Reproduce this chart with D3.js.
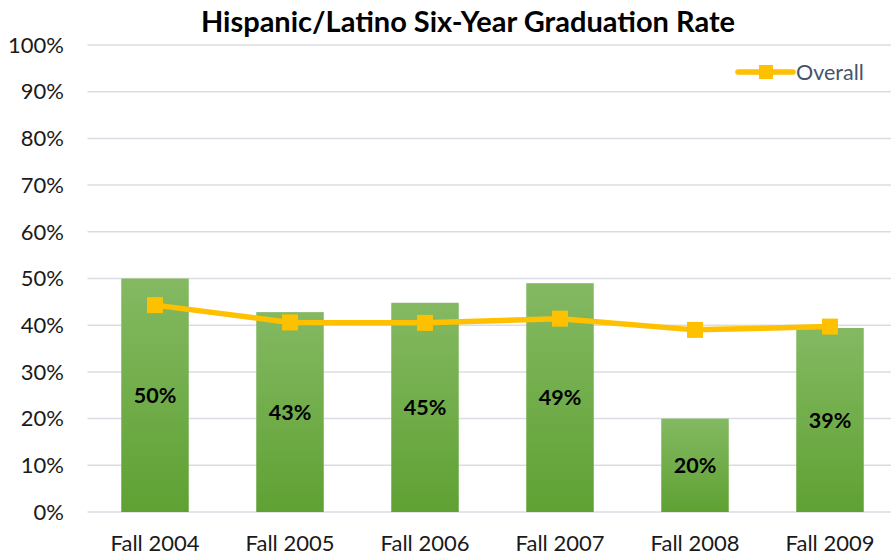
<!DOCTYPE html>
<html>
<head>
<meta charset="utf-8">
<script src="https://cdn.jsdelivr.net/npm/d3@7"></script>
<style>
  body { margin: 0; background: #fff; }
  svg { font-family: Lato, "Open Sans", sans-serif; }
</style>
</head>
<body>
<div id="chart"></div>
<script>
// data
const cohorts = ["Fall 2004", "Fall 2005", "Fall 2006", "Fall 2007", "Fall 2008", "Fall 2009"];
const hispanicRate = [0.50, 0.428, 0.448, 0.49, 0.20, 0.394];
const overallRate = [0.443, 0.406, 0.405, 0.414, 0.390, 0.397];
const yTicks = [0, 0.1, 0.2, 0.3, 0.4, 0.5, 0.6, 0.7, 0.8, 0.9, 1.0];

const width = 891, height = 558;
const margin = { left: 87.5, top: 45, bottom: 46 };
const plotW = 810; // runs past the right edge, as in the original crop

const svg = d3.select("#chart").append("svg")
  .attr("width", width)
  .attr("height", height);

const x = d3.scaleBand()
  .domain(cohorts)
  .range([margin.left, margin.left + plotW])
  .paddingInner(0.5)
  .paddingOuter(0.25);

const y = d3.scaleLinear()
  .domain([0, 1])
  .range([height - margin.bottom, margin.top]);

// gradient for bars
const grad = svg.append("defs").append("linearGradient")
  .attr("id", "barGrad")
  .attr("x1", 0).attr("y1", 0).attr("x2", 0).attr("y2", 1);
grad.append("stop").attr("offset", "0%").attr("stop-color", "#84b962");
grad.append("stop").attr("offset", "100%").attr("stop-color", "#5fa133");

// grid
svg.append("g")
  .selectAll("line")
  .data(yTicks)
  .join("line")
  .attr("x1", margin.left)
  .attr("x2", margin.left + plotW)
  .attr("y1", d => y(d))
  .attr("y2", d => y(d))
  .attr("stroke", "#d9dde3")
  .attr("stroke-width", 1.5);

// y axis labels
svg.append("g")
  .selectAll("text")
  .data(yTicks)
  .join("text")
  .attr("x", 64)
  .attr("y", d => y(d))
  .attr("dy", "0.35em")
  .attr("text-anchor", "end")
  .style("font-size", "22px")
  .attr("fill", "#1a1a1a")
  .text(d => d3.format(".0%")(d));

// bars
svg.append("g")
  .selectAll("rect")
  .data(cohorts)
  .join("rect")
  .attr("x", d => x(d))
  .attr("width", x.bandwidth())
  .attr("y", (d, i) => y(hispanicRate[i]))
  .attr("height", (d, i) => y(0) - y(hispanicRate[i]))
  .attr("fill", "url(#barGrad)");

// bar labels
svg.append("g")
  .selectAll("text")
  .data(cohorts)
  .join("text")
  .attr("x", d => x(d) + x.bandwidth() / 2)
  .attr("y", (d, i) => (y(hispanicRate[i]) + y(0)) / 2)
  .attr("dy", "0.35em")
  .attr("text-anchor", "middle")
  .style("font-size", "21.5px")
  .style("font-weight", "bold")
  .attr("fill", "#000")
  .text((d, i) => d3.format(".0%")(hispanicRate[i]));

// x axis labels
svg.append("g")
  .selectAll("text")
  .data(cohorts)
  .join("text")
  .attr("x", d => x(d) + x.bandwidth() / 2)
  .attr("y", 543)
  .attr("dy", "0.35em")
  .attr("text-anchor", "middle")
  .style("font-size", "22px")
  .attr("fill", "#1a1a1a")
  .text(d => d);

// overall line
const line = d3.line()
  .x((d, i) => x(cohorts[i]) + x.bandwidth() / 2)
  .y(d => y(d));

svg.append("path")
  .datum(overallRate)
  .attr("d", line)
  .attr("fill", "none")
  .attr("stroke", "#ffc000")
  .attr("stroke-width", 5.5)
  .attr("stroke-linejoin", "round")
  .attr("stroke-linecap", "round");

svg.append("g")
  .selectAll("rect")
  .data(overallRate)
  .join("rect")
  .attr("x", (d, i) => x(cohorts[i]) + x.bandwidth() / 2 - 8)
  .attr("y", d => y(d) - 8)
  .attr("width", 16)
  .attr("height", 16)
  .attr("fill", "#ffc000");

// legend
const lg = svg.append("g").attr("transform", "translate(738,72)");
lg.append("line")
  .attr("x1", 0).attr("x2", 55)
  .attr("stroke", "#ffc000")
  .attr("stroke-width", 5.5)
  .attr("stroke-linecap", "round");
lg.append("rect")
  .attr("x", 21).attr("y", -7)
  .attr("width", 14).attr("height", 14)
  .attr("fill", "#ffc000");
lg.append("text")
  .attr("x", 58)
  .attr("dy", "0.35em")
  .style("font-size", "21.5px")
  .attr("fill", "#44546a")
  .text("Overall");

// title
svg.append("text")
  .attr("x", 468)
  .attr("y", 32)
  .attr("text-anchor", "middle")
  .style("font-size", "29px")
  .style("font-weight", "bold")
  .attr("fill", "#000")
  .text("Hispanic/Latino Six-Year Graduation Rate");
</script>
</body>
</html>
